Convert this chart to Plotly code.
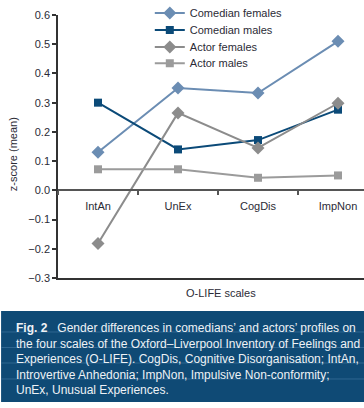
import plotly.graph_objects as go

categories = ["IntAn", "UnEx", "CogDis", "ImpNon"]
comedian_females = [0.13, 0.35, 0.333, 0.51]
comedian_males = [0.30, 0.14, 0.172, 0.276]
actor_females = [-0.182, 0.265, 0.145, 0.298]
actor_males = [0.072, 0.072, 0.043, 0.051]

series = [
    ("Comedian females", comedian_females, "#6b8db3", "diamond"),
    ("Comedian males", comedian_males, "#0b4a78", "square"),
    ("Actor females", actor_females, "#8c8c8c", "diamond"),
    ("Actor males", actor_males, "#9b9b9b", "square"),
]

FONT = "Liberation Sans"
TXT = "#2b2b36"

legend_ids = ["legend", "legend2", "legend3", "legend4"]
legend_y = [1.0076, 0.943, 0.878, 0.817]

fig = go.Figure()
for (name, vals, color, sym), lid in zip(series, legend_ids):
    fig.add_trace(go.Scatter(
        x=categories, y=vals, name=name, mode="lines+markers",
        line=dict(color=color, width=2), legend=lid,
        marker=dict(symbol=sym, size=10 if sym == "diamond" else 8, color=color),
    ))
# empty trace to draw the bottom frame axis
fig.add_trace(go.Scatter(x=[], y=[], xaxis="x2", showlegend=False, hoverinfo="skip"))

caption = ("<b>Fig. 2</b>   Gender differences in comedians’ and actors’ profiles on<br>"
           "the four scales of the Oxford–Liverpool Inventory of Feelings and<br>"
           "Experiences (O-LIFE). CogDis, Cognitive Disorganisation; IntAn,<br>"
           "Introvertive Anhedonia; ImpNon, Impulsive Non-conformity;<br>"
           "UnEx, Unusual Experiences.")

legends = {}
for lid, ly in zip(legend_ids, legend_y):
    legends[lid] = dict(x=0.3, y=ly, xanchor="left", yanchor="middle",
                        bgcolor="rgba(0,0,0,0)", font=dict(size=11, color=TXT),
                        itemwidth=30)

shapes = [dict(type="rect", xref="paper", yref="paper",
               x0=-0.186, x1=1.0, y0=-0.4715, y1=-0.1255,
               fillcolor="#0f4a75", line=dict(width=0), layer="below")]
for ry in [-0.2053, -0.2643, -0.3232, -0.3840]:
    shapes.append(dict(type="line", xref="paper", yref="paper",
                       x0=-0.186, x1=1.0, y0=ry, y1=ry,
                       line=dict(color="#2f6690", width=1), layer="below"))

fig.update_layout(
    width=364, height=408,
    margin=dict(l=58, r=0, t=15, b=130, autoexpand=False),
    paper_bgcolor="white", plot_bgcolor="white",
    font=dict(family=FONT, size=11, color=TXT),
    showlegend=True,
    **legends,
    xaxis=dict(type="category", range=[-0.5, 3.325], anchor="free", position=1/3,
               showline=True, linecolor="#555555", linewidth=1.5,
               ticks="outside", ticklen=4, tickcolor="#555555", tickwidth=1.5,
               tickson="boundaries", ticklabelstandoff=6, automargin=False,
               showgrid=False, zeroline=False,
               tickfont=dict(size=11, color=TXT)),
    xaxis2=dict(overlaying="x", anchor="y", side="bottom", matches="x",
                showline=True, linecolor="#333333", linewidth=1.5,
                showticklabels=False, ticks="", showgrid=False, zeroline=False),
    yaxis=dict(range=[-0.3, 0.6], dtick=0.1, tickformat=".1f",
               showline=True, linecolor="#333333", linewidth=1.5,
               ticks="outside", ticklen=4, tickcolor="#333333", tickwidth=1.5,
               showgrid=False, zeroline=False, automargin=False,
               tickfont=dict(size=11, color=TXT)),
    shapes=shapes,
    annotations=[
        dict(text="z-score (mean)", xref="paper", yref="paper", x=-0.147, y=0.471,
             textangle=-90, showarrow=False, font=dict(size=11, color=TXT),
             xanchor="center", yanchor="middle"),
        dict(text="O-LIFE scales", xref="paper", yref="paper", x=0.533, y=-0.057,
             showarrow=False, font=dict(size=11, color=TXT),
             xanchor="center", yanchor="middle"),
        dict(text=caption, xref="paper", yref="paper", x=-0.145, y=-0.156,
             xanchor="left", yanchor="top", align="left", showarrow=False,
             font=dict(size=12, color="#eef2f6", family=FONT)),
    ],
)

fig.write_html("out.html", config={"displayModeBar": False},
               post_script="document.body.style.margin='0';document.body.style.overflow='hidden';")
